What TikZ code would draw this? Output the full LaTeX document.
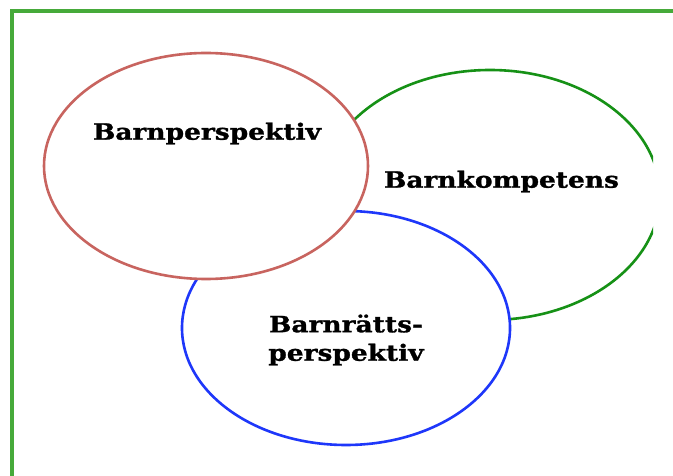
\documentclass[tikz,border=0pt]{standalone}
\usepackage{fontspec}
\setmainfont{DejaVu Serif}
\newfontfamily\labelfont{DejaVu Serif}[FakeStretch=1.18, BoldFeatures={FakeBold=1.2}]
\usetikzlibrary{shapes.geometric}
\definecolor{framegreen}{RGB}{70,170,58}
\definecolor{ringgreen}{RGB}{22,145,22}
\definecolor{ringred}{RGB}{200,100,95}
\definecolor{ringblue}{RGB}{30,55,250}
\tikzset{
  ring/.style={shape=ellipse, inner sep=0pt, fill=white, line width=2.6pt},
  label/.style={font=\labelfont\bfseries\fontsize{22.4}{28.5}\selectfont, align=center, inner sep=0pt}
}
\begin{document}
\begin{tikzpicture}[x=1pt, y=-1pt]
  \useasboundingbox (0,0) rectangle (673,476);
  \fill[white] (0,0) rectangle (673,476);
  % outer frame, open to the right and bottom
  \draw[framegreen, line width=3.2pt] (12,11) rectangle (720,520);
  % green ring, cut off at its right side
  \begin{scope}
    \clip (0,0) rectangle (653,476);
    \node[ring, draw=ringgreen, minimum width=340pt, minimum height=250pt] (kompetens) at (490,195) {};
  \end{scope}
  \node[ring, draw=ringblue, minimum width=328pt, minimum height=234pt] (ratt) at (346,328) {};
  \node[ring, draw=ringred, minimum width=324pt, minimum height=226pt] (perspektiv) at (206,166) {};
  \node[label] (tperspektiv) at (207,133.5) {Barnperspektiv};
  \node[label] (tkompetens) at (501.5,181.5) {Barnkompetens};
  \node[label] (tratt) at (346,340) {Barnrätts-\\perspektiv};
\end{tikzpicture}
\end{document}
